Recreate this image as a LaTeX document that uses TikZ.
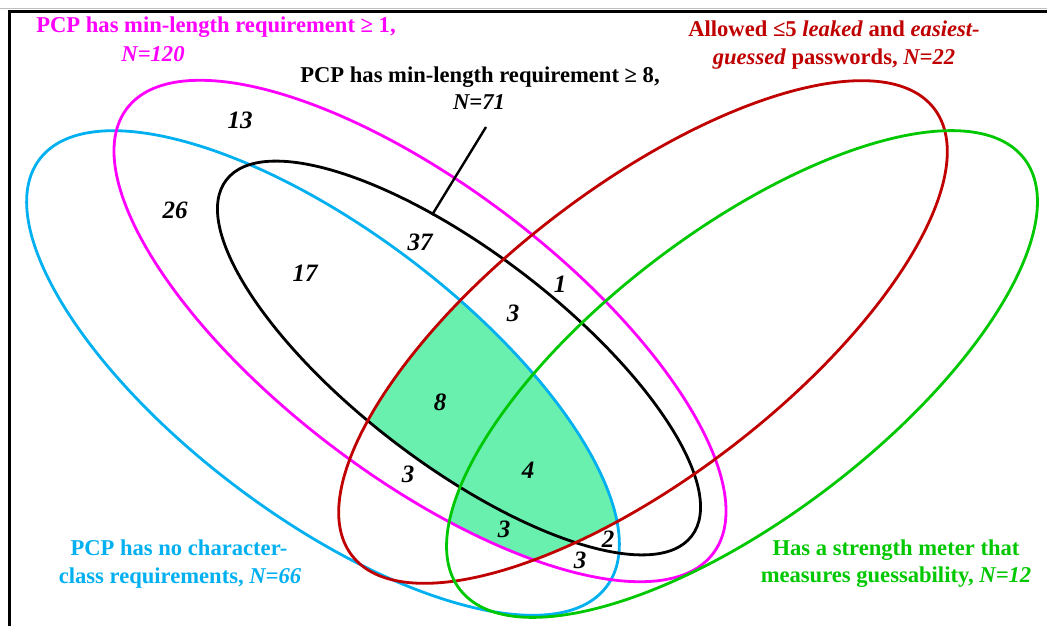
\documentclass[tikz,border=0pt]{standalone}
\usepackage{fontspec}
\setmainfont{Liberation Serif}
\definecolor{cPink}{RGB}{255,0,255}
\definecolor{cCyan}{RGB}{0,176,240}
\definecolor{cRed}{RGB}{192,0,0}
\definecolor{cGreen}{RGB}{0,200,0}
\definecolor{cFill}{RGB}{105,240,175}
\begin{document}
\begin{tikzpicture}[x=1pt,y=-1pt,
  ring/.style={line width=2.8pt},
  tCyan/.style={rotate around={-37:(323,373)}},
  tPink/.style={rotate around={-37.2:(420,331)}},
  tBlack/.style={rotate around={-37.4:(459,358)}},
  tRed/.style={rotate around={37.5:(643,332)}},
  tGreen/.style={rotate around={37.3:(742,374)}},
  lbl/.style={font=\fontsize{22.6}{26}\selectfont\bfseries, inner sep=0pt, anchor=base},
  num/.style={font=\fontsize{25}{28}\selectfont\bfseries\itshape, inner sep=0pt, anchor=base},
]
\useasboundingbox (0,0) rectangle (1047,626);
\fill[white] (0,0) rectangle (1047,626);
% frame
\draw[gray!50, line width=0.8pt] (0,8) -- (1047,8);
\draw[line width=3pt] (9,626) -- (9,11.5) -- (1047,11.5);
% shaded region
\begin{scope}
  \clip[tCyan] (323,373) ellipse [x radius=355pt, y radius=143pt];
  \clip[tRed] (643,332) ellipse [x radius=367pt, y radius=145pt];
  \clip[tPink] (420,331) ellipse [x radius=368pt, y radius=145pt];
  \fill[cFill, tBlack] (459,358) ellipse [x radius=293pt, y radius=106pt];
  \fill[cFill, tGreen] (742,374) ellipse [x radius=355pt, y radius=143pt];
\end{scope}
% ellipses
\draw[ring, cCyan, tCyan] (323,373) ellipse [x radius=355pt, y radius=143pt];
\draw[ring, cPink, tPink] (420,331) ellipse [x radius=368pt, y radius=145pt];
\draw[ring, black, tBlack] (459,358) ellipse [x radius=293pt, y radius=106pt];
\draw[ring, cRed, tRed] (643,332) ellipse [x radius=367pt, y radius=145pt];
\draw[ring, cGreen, tGreen] (742,374) ellipse [x radius=355pt, y radius=143pt];
% labels
\node[lbl, cPink] (pk1) at (216,33) {PCP has min-length requirement ≥ 1,};
\node[lbl, cPink] (pk2) at (153,62) {\textit{N=120}};
\node[lbl, black] (bk1) at (480,82) {PCP has min-length requirement ≥ 8,};
\node[lbl, black] (bk2) at (479,110) {\textit{N=71}};
\node[lbl, cRed] (rd1) at (834,37) {Allowed ≤5 \textit{leaked} and \textit{easiest-}};
\node[lbl, cRed] (rd2) at (834,64) {\textit{guessed} passwords, \textit{N=22}};
\node[lbl, cCyan] (cy1) at (179,555) {PCP has no character-};
\node[lbl, cCyan] (cy2) at (180,583) {class requirements, \textit{N=66}};
\node[lbl, cGreen] (gr1) at (896,555) {Has a strength meter that};
\node[lbl, cGreen] (gr2) at (896,582) {measures guessability, \textit{N=12}};
% leader
\coordinate (leadtop) at (486,127);
\coordinate (leadend) at (432,215);
\draw[line width=2.4pt] (leadtop) -- (leadend);
% numbers
\node[num] (n13) at (240,128) {13};
\node[num] (n26) at (175,218) {26};
\node[num] (n17) at (305,281) {17};
\node[num] (n37) at (420,250) {37};
\node[num] (n1) at (560,292) {1};
\node[num] (n3a) at (513,321) {3};
\node[num] (n8) at (440,410) {8};
\node[num] (n4) at (528,478) {4};
\node[num] (n3b) at (408,482) {3};
\node[num] (n3c) at (504,537) {3};
\node[num] (n2) at (608,547) {2};
\node[num] (n3d) at (580,568) {3};
\end{tikzpicture}
\end{document}
